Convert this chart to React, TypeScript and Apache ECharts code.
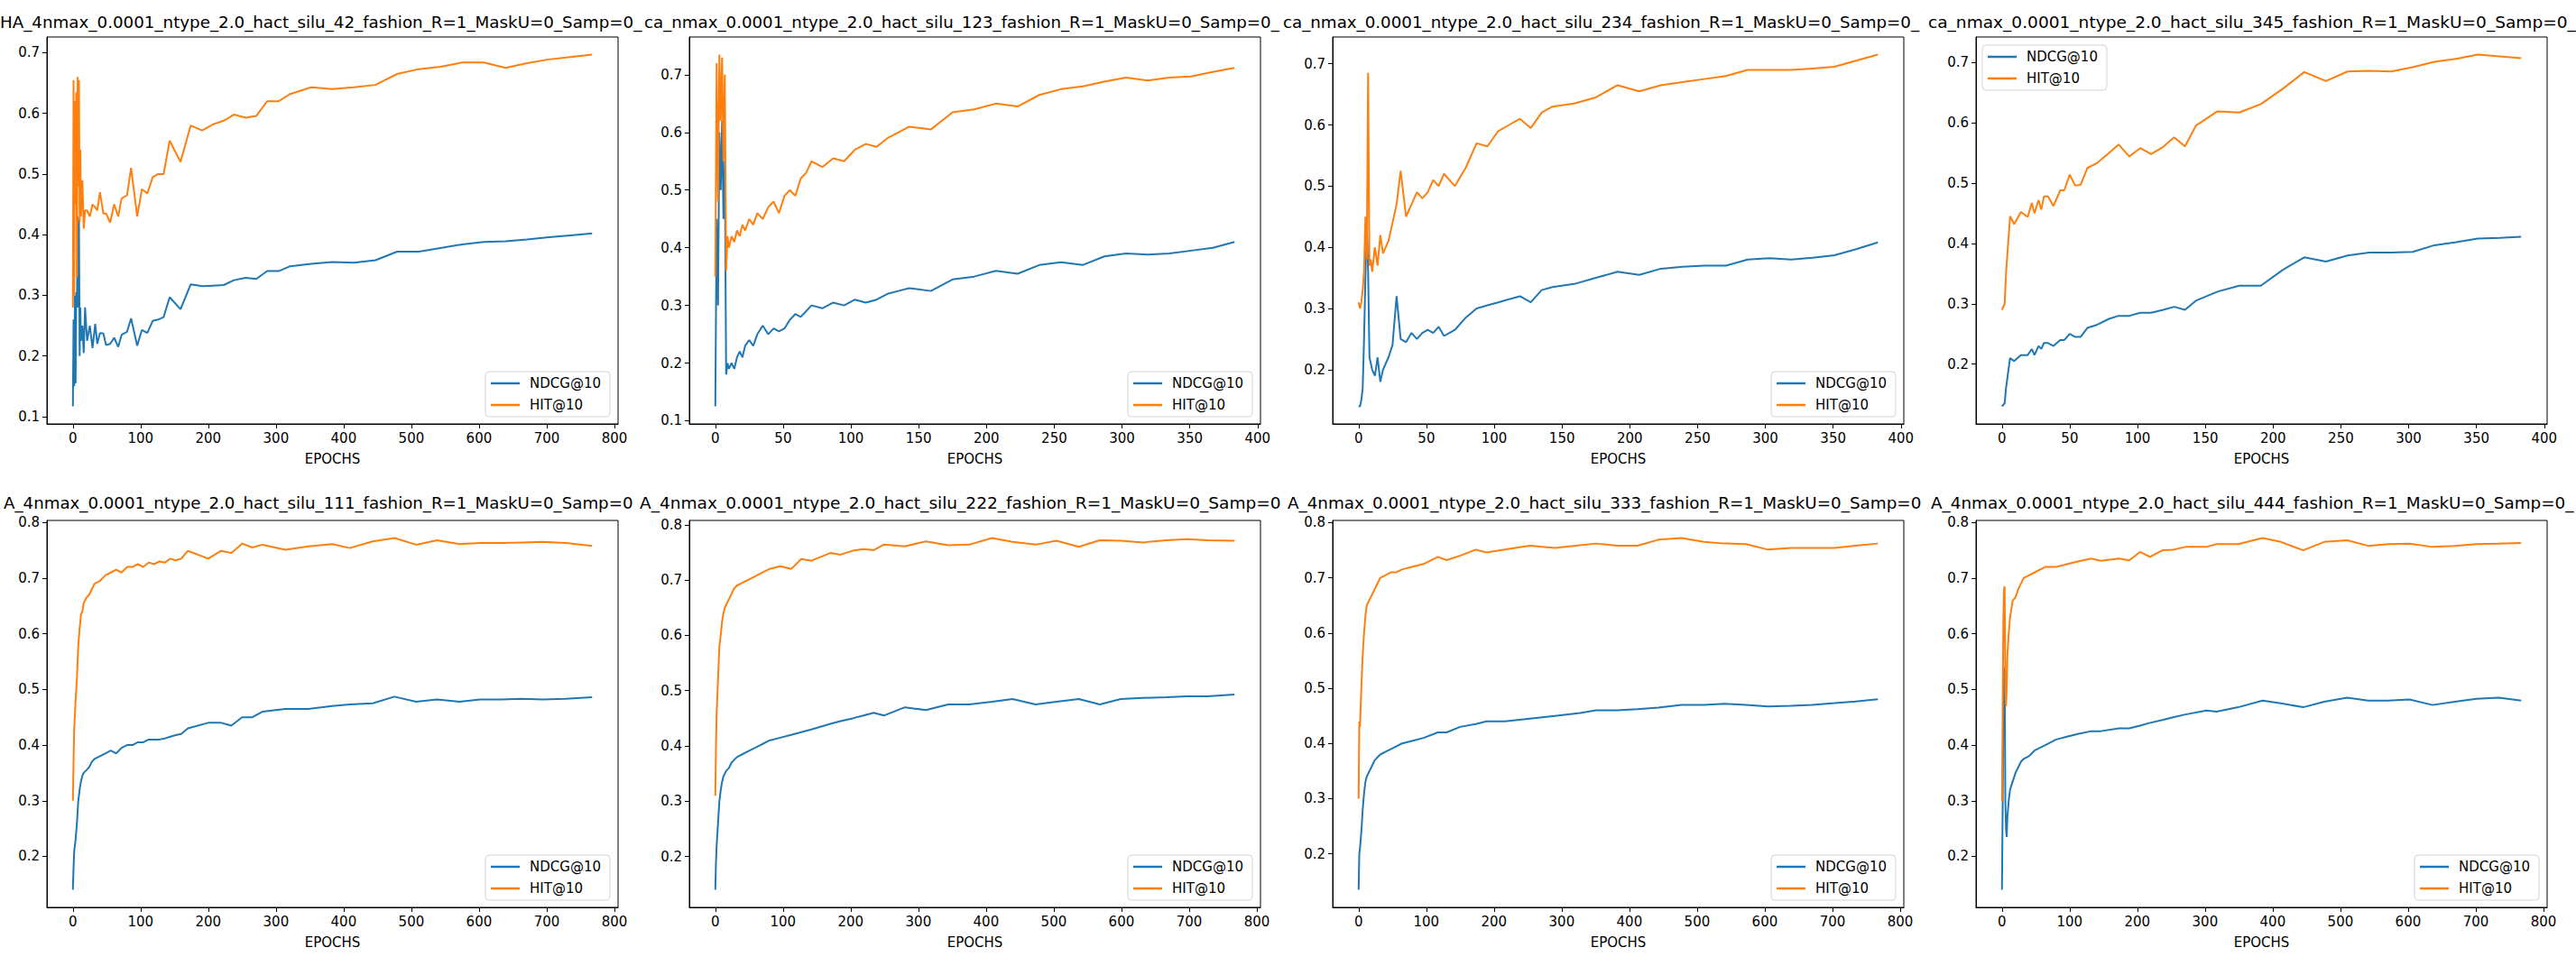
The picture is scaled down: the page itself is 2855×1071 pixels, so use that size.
import React, { useEffect, useRef } from 'react';
import * as echarts from 'echarts';

const W = 2855;
const H = 1071;
const FONT = 'DejaVu Sans';

// ---------- tick labels ----------
const XT_768 = [0, 100, 200, 300, 400, 500, 600, 700, 800];
const XT_384 = [0, 50, 100, 150, 200, 250, 300, 350, 400];
const YT_A = [0.1, 0.2, 0.3, 0.4, 0.5, 0.6, 0.7];
const YT_B = [0.2, 0.3, 0.4, 0.5, 0.6, 0.7];
const YT_C = [0.2, 0.3, 0.4, 0.5, 0.6, 0.7, 0.8];

const SERIES_NAMES = ['NDCG@10', 'HIT@10'];

// ---------- titles ----------
const TITLES = [
  'HA_4nmax_0.0001_ntype_2.0_hact_silu_42_fashion_R=1_MaskU=0_Samp=0_',
  'ca_nmax_0.0001_ntype_2.0_hact_silu_123_fashion_R=1_MaskU=0_Samp=0_',
  'ca_nmax_0.0001_ntype_2.0_hact_silu_234_fashion_R=1_MaskU=0_Samp=0_',
  'ca_nmax_0.0001_ntype_2.0_hact_silu_345_fashion_R=1_MaskU=0_Samp=0_',
  'A_4nmax_0.0001_ntype_2.0_hact_silu_111_fashion_R=1_MaskU=0_Samp=0',
  'A_4nmax_0.0001_ntype_2.0_hact_silu_222_fashion_R=1_MaskU=0_Samp=0',
  'A_4nmax_0.0001_ntype_2.0_hact_silu_333_fashion_R=1_MaskU=0_Samp=0',
  'A_4nmax_0.0001_ntype_2.0_hact_silu_444_fashion_R=1_MaskU=0_Samp=0_',
];

// ---------- panel 1 (42) ----------
const E1 = [0,1,2,3,4,5,6,7,8,9,10,11,12,14,16,18,21,25,29,33,36,40,45,49,55,61,67,72,80,86,95,102,110,118,126,134,143,159,174,191,207,223,238,255,271,287,304,321,352,383,415,447,479,511,543,575,607,639,671,703,735,767];
const H1 = [0.28,0.655,0.30,0.62,0.45,0.635,0.33,0.66,0.48,0.655,0.42,0.54,0.43,
  0.49,0.41,0.44,
  0.44,0.43,0.45,0.445,0.44,0.47,0.435,0.435,
  0.42,0.45,0.43,0.46,0.465,0.51,0.43,
  0.475,0.468,0.495,0.50,0.50,0.555,
  0.52,0.58,0.572,0.582,0.588,0.598,0.593,0.596,0.62,
  0.62,0.632,0.643,0.640,0.643,0.647,0.665,0.673,0.677,0.684,0.684,0.675,0.683,0.689,0.693,0.697];
const N1 = [0.117,0.26,0.15,0.30,0.155,0.305,0.28,0.43,0.28,0.425,0.20,0.28,0.225,
  0.25,0.205,0.28,
  0.225,0.25,0.213,0.253,0.22,0.238,0.237,0.218,
  0.22,0.23,0.215,0.235,0.24,0.262,0.217,
  0.243,0.238,0.258,0.26,0.264,0.297,
  0.277,0.318,0.315,0.316,0.317,0.325,0.329,0.327,0.34,
  0.34,0.348,0.352,0.355,0.354,0.358,0.372,0.372,0.378,0.384,0.388,0.389,0.392,0.396,0.399,0.402];

// ---------- panel 2 (123) ----------
const E2 = [0,1,2,3,4,5,6,7,8,9,10,12,14,16,18,20,22,25,28,31,35,39,43,47,51,55,59,63,67,71,79,87,95,103,111,119,127,135,143,159,175,191,207,223,239,255,271,287,303,319,335,351,367,383];
const H2 = [0.35,0.72,0.48,0.735,0.62,0.73,0.55,0.70,0.36,0.42,0.40,
  0.42,0.41,0.43,0.42,0.44,0.43,
  0.45,0.44,0.46,0.45,0.47,0.48,0.46,0.49,0.50,0.49,0.52,0.53,0.55,
  0.54,0.555,0.55,0.57,0.58,0.575,0.59,0.60,0.61,
  0.605,0.635,0.64,0.65,0.645,0.665,0.675,0.68,0.688,0.695,0.69,0.695,0.697,0.705,0.712];
const N2 = [0.125,0.45,0.30,0.60,0.50,0.62,0.45,0.55,0.18,0.20,0.19,
  0.20,0.19,0.21,0.22,0.21,0.23,
  0.24,0.23,0.25,0.265,0.25,0.26,0.255,0.26,0.275,0.285,0.28,0.29,0.30,
  0.295,0.305,0.30,0.31,0.305,0.31,0.32,0.325,0.33,
  0.325,0.345,0.35,0.36,0.355,0.37,0.375,0.37,0.385,0.39,0.388,0.39,0.395,0.40,0.41];

// ---------- panel 3 (234) ----------
const E3 = [0,1,2,3,4,5,6,7,8,9,10,12,14,16,18,20,22,25,28,31,35,39,43,47,51,55,59,63,67,71,79,87,95,103,111,119,127,135,143,159,175,191,207,223,239,255,271,287,303,319,335,351,367,383];
const H3 = [0.31,0.30,0.31,0.33,0.36,0.45,0.38,0.685,0.37,0.38,0.36,
  0.40,0.37,0.42,0.39,0.40,0.41,
  0.44,0.47,0.525,0.45,0.47,0.49,0.48,0.49,0.51,0.50,0.52,0.51,0.50,
  0.53,0.57,0.565,0.59,0.60,0.61,0.595,0.62,0.63,
  0.635,0.645,0.665,0.655,0.665,0.67,0.675,0.68,0.69,0.69,0.69,0.692,0.695,0.705,0.715];
const N3 = [0.14,0.14,0.15,0.17,0.25,0.35,0.45,0.36,0.22,0.21,0.20,
  0.19,0.22,0.18,0.20,0.21,0.22,
  0.24,0.32,0.25,0.245,0.26,0.25,0.26,0.265,0.26,0.27,0.255,0.26,0.265,
  0.285,0.30,0.305,0.31,0.315,0.32,0.31,0.33,0.335,
  0.34,0.35,0.36,0.355,0.365,0.368,0.37,0.37,0.38,0.382,0.38,0.383,0.387,0.397,0.408];

// ---------- panel 4 (345) ----------
const E4 = [0,2,3,6,9,14,19,22,24,27,29,31,34,38,43,46,50,54,58,63,70,79,86,94,102,110,119,127,135,143,159,175,191,207,223,239,255,271,287,303,319,335,351,367,383];
const H4 = [0.29,0.30,0.35,0.445,0.432,
  0.452,0.444,0.467,0.45,0.472,0.456,0.478,0.478,0.462,
  0.488,0.488,0.514,0.496,0.497,0.525,0.533,
  0.55,0.564,0.544,0.558,0.548,0.56,0.576,0.561,0.595,
  0.619,0.617,0.631,0.656,0.684,0.669,0.685,0.686,0.685,0.692,0.701,0.706,0.713,0.710,0.707];
const N4 = [0.13,0.135,0.16,0.21,0.205,
  0.215,0.215,0.225,0.215,0.23,0.225,0.235,0.235,0.23,
  0.24,0.24,0.25,0.245,0.245,0.26,0.265,
  0.275,0.28,0.28,0.285,0.285,0.29,0.295,0.29,0.305,
  0.32,0.33,0.33,0.356,0.377,0.37,0.38,0.385,0.385,0.386,0.397,0.402,0.408,0.409,0.411];

// ---------- panel 5 (111) ----------
const E5 = [0,1,2,4,6,8,10,12,14,16,20,24,28,32,40,48,56,64,72,80,88,96,104,112,120,128,136,144,152,160,170,200,219,234,250,265,280,314,348,383,409,443,475,507,538,571,602,633,663,694,728,767];
const H5 = [0.30,0.37,0.43,0.48,0.52,0.58,0.61,0.635,0.64,0.655,
  0.665,0.67,0.68,0.69,0.695,0.705,0.71,0.715,0.71,0.72,
  0.72,0.725,0.72,0.728,0.725,0.73,0.728,0.735,0.732,0.735,
  0.749,0.735,0.749,0.745,0.762,0.755,0.76,0.751,0.757,0.761,
  0.754,0.766,0.772,0.76,0.768,0.761,0.763,0.763,0.764,0.765,0.763,0.758];
const N5 = [0.14,0.18,0.21,0.23,0.26,0.30,0.32,0.335,0.345,0.35,
  0.355,0.36,0.37,0.375,0.38,0.385,0.39,0.385,0.395,0.40,
  0.40,0.405,0.405,0.41,0.41,0.41,0.412,0.415,0.418,0.42,
  0.43,0.44,0.44,0.435,0.45,0.45,0.46,0.465,0.465,0.47,
  0.473,0.475,0.487,0.478,0.482,0.478,0.482,0.482,0.483,0.482,0.483,0.486];

// ---------- panel 6 (222) ----------
const E6 = [0,1,2,4,6,8,10,12,14,16,20,24,28,32,40,48,56,64,72,80,96,112,127,142,170,185,203,219,234,249,280,311,344,375,409,439,473,504,537,568,599,632,666,697,727,767];
const H6 = [0.31,0.40,0.46,0.52,0.58,0.60,0.625,0.64,0.65,0.655,
  0.665,0.675,0.685,0.69,0.695,0.70,0.705,0.71,0.715,0.72,
  0.725,0.72,0.738,0.735,0.749,0.746,0.753,0.756,0.754,0.764,
  0.761,0.770,0.763,0.764,0.776,0.769,0.764,0.771,0.76,0.772,
  0.771,0.768,0.772,0.774,0.772,0.771];
const N6 = [0.14,0.19,0.22,0.26,0.30,0.32,0.335,0.345,0.35,0.355,
  0.36,0.37,0.375,0.38,0.385,0.39,0.395,0.40,0.405,0.41,
  0.415,0.42,0.425,0.43,0.44,0.445,0.45,0.455,0.46,0.455,
  0.47,0.465,0.475,0.475,0.48,0.485,0.475,0.48,0.485,0.475,
  0.485,0.487,0.488,0.49,0.49,0.493];

// ---------- panel 7 (333) ----------
const E7 = [0,1,2,4,6,8,10,12,16,20,24,28,32,40,48,56,64,80,96,117,130,150,173,189,216,253,290,327,351,382,412,443,477,510,541,572,605,639,670,703,734,767];
const H7 = [0.30,0.44,0.43,0.50,0.56,0.60,0.63,0.65,0.66,0.67,
  0.68,0.69,0.70,0.705,0.71,0.71,0.715,0.72,0.725,0.738,
  0.732,0.74,0.751,0.746,0.751,0.758,0.754,0.759,0.762,0.758,
  0.758,0.769,0.772,0.765,0.762,0.761,0.751,0.754,0.754,0.754,
  0.758,0.762];
const N7 = [0.135,0.20,0.21,0.24,0.28,0.31,0.33,0.34,0.35,0.36,
  0.37,0.375,0.38,0.385,0.39,0.395,0.40,0.405,0.41,0.42,
  0.42,0.43,0.435,0.44,0.44,0.445,0.45,0.455,0.46,0.46,
  0.462,0.465,0.47,0.47,0.472,0.47,0.467,0.468,0.47,0.473,
  0.476,0.48];

// ---------- panel 8 (444) ----------
const E8 = [0,1,2,3,4,5,6,7,8,10,12,16,20,24,28,32,40,48,56,64,80,96,112,132,146,173,188,204,219,237,253,271,302,317,349,385,412,445,476,510,541,571,602,636,669,701,734,767];
const H8 = [0.30,0.44,0.62,0.68,0.685,0.50,0.47,0.50,0.56,
  0.60,0.63,0.66,0.665,0.68,0.69,0.70,0.705,0.71,0.715,
  0.72,0.72,0.725,0.73,0.735,0.731,0.735,0.732,0.747,0.738,
  0.750,0.751,0.756,0.756,0.761,0.761,0.772,0.765,0.750,0.765,
  0.768,0.758,0.761,0.762,0.756,0.758,0.761,0.762,0.763];
const N8 = [0.14,0.28,0.45,0.53,0.54,0.30,0.25,0.235,0.27,
  0.30,0.32,0.335,0.35,0.36,0.37,0.375,0.38,0.39,0.395,
  0.40,0.41,0.415,0.42,0.425,0.425,0.43,0.43,0.435,0.44,
  0.445,0.45,0.455,0.462,0.46,0.468,0.48,0.475,0.468,0.478,
  0.485,0.48,0.48,0.482,0.472,0.478,0.483,0.485,0.48];

const PANELS = [
  { ep: E1, ndcg: N1, hit: H1, xt: XT_768, yt: YT_A },
  { ep: E2, ndcg: N2, hit: H2, xt: XT_384, yt: YT_A },
  { ep: E3, ndcg: N3, hit: H3, xt: XT_384, yt: YT_B },
  { ep: E4, ndcg: N4, hit: H4, xt: XT_384, yt: YT_B },
  { ep: E5, ndcg: N5, hit: H5, xt: XT_768, yt: YT_C },
  { ep: E6, ndcg: N6, hit: H6, xt: XT_768, yt: YT_C },
  { ep: E7, ndcg: N7, hit: H7, xt: XT_768, yt: YT_C },
  { ep: E8, ndcg: N8, hit: H8, xt: XT_768, yt: YT_C },
];

// ---------- layout (pixels) ----------
const COL_LEFT = [52, 764, 1477, 2190];
const GRID_W = 633;
const ROW_TOP = [41, 577];
const GRID_H = 429;
const TITLE_Y = [25, 558];
const TITLE_SPAN = [
  [0, 712], [714, 1418], [1422, 2128], [2137, 2855],
  [4, 702], [709, 1420], [1427, 2130], [2140, 2853],
];
const LEGEND_UPPER_LEFT = [false, false, false, true, false, false, false, false];

const BLUE = '#1f77b4';
const ORANGE = '#ff7f0e';

function buildOption() {
  const canvas = document.createElement('canvas');
  const ctx = canvas.getContext('2d');
  const TITLE_FS = 18;
  if (ctx) ctx.font = `${TITLE_FS}px "${FONT}"`;

  const grid: any[] = [];
  const xAxis: any[] = [];
  const yAxis: any[] = [];
  const series: any[] = [];
  const legend: any[] = [];
  const graphic: any[] = [];

  PANELS.forEach((p, i) => {
    const col = i % 4;
    const row = Math.floor(i / 4);
    const left = COL_LEFT[col];
    const top = ROW_TOP[row];
    grid.push({
      left, top, width: GRID_W, height: GRID_H,
      show: true, borderColor: '#000', borderWidth: 1, backgroundColor: 'transparent',
    });

    const xMaxData = Math.max(...p.ep);
    const xMinData = Math.min(...p.ep);
    const xr = xMaxData - xMinData;
    const all = p.ndcg.concat(p.hit);
    const yMinData = Math.min(...all);
    const yMaxData = Math.max(...all);
    const yr = yMaxData - yMinData;

    const labelStyle = { color: '#000', fontSize: 15, fontFamily: FONT };

    xAxis.push({
      type: 'value', gridIndex: i,
      min: xMinData - 0.05 * xr, max: xMaxData + 0.05 * xr,
      axisLine: { show: true, onZero: false, lineStyle: { color: '#000', width: 1 } },
      axisTick: { show: true, length: 5, inside: false, customValues: p.xt, lineStyle: { color: '#000', width: 1 } },
      axisLabel: { ...labelStyle, margin: 8, customValues: p.xt, formatter: (v: number) => String(Math.round(v)) },
      splitLine: { show: false },
      name: 'EPOCHS', nameLocation: 'middle', nameGap: 31,
      nameTextStyle: { color: '#000', fontSize: 15, fontFamily: FONT },
    });
    yAxis.push({
      type: 'value', gridIndex: i,
      min: yMinData - 0.05 * yr, max: yMaxData + 0.05 * yr,
      axisLine: { show: true, onZero: false, lineStyle: { color: '#000', width: 1 } },
      axisTick: { show: true, length: 5, inside: false, customValues: p.yt, lineStyle: { color: '#000', width: 1 } },
      axisLabel: { ...labelStyle, margin: 8, customValues: p.yt, formatter: (v: number) => v.toFixed(1) },
      splitLine: { show: false },
    });

    series.push({
      type: 'line', name: SERIES_NAMES[0], xAxisIndex: i, yAxisIndex: i,
      data: p.ep.map((e, k) => [e, p.ndcg[k]]),
      showSymbol: false, symbol: 'none', silent: true, clip: true,
      lineStyle: { color: BLUE, width: 2 }, itemStyle: { color: BLUE },
      emphasis: { disabled: true },
    });
    series.push({
      type: 'line', name: SERIES_NAMES[1], xAxisIndex: i, yAxisIndex: i,
      data: p.ep.map((e, k) => [e, p.hit[k]]),
      showSymbol: false, symbol: 'none', silent: true, clip: true,
      lineStyle: { color: ORANGE, width: 2 }, itemStyle: { color: ORANGE },
      emphasis: { disabled: true },
    });

    const lg: any = {
      data: SERIES_NAMES, orient: 'vertical', selectedMode: false,
      icon: 'rect', itemWidth: 32, itemHeight: 2.5, itemGap: 4,
      padding: [3, 10, 3, 6],
      backgroundColor: 'rgba(255,255,255,0.8)', borderColor: '#d3d3d3', borderWidth: 1, borderRadius: 4,
      textStyle: { color: '#000', fontSize: 15, fontFamily: FONT, lineHeight: 20, padding: [0, 0, 0, 6] },
    };
    if (LEGEND_UPPER_LEFT[i]) {
      lg.left = left + 7;
      lg.top = top + 9;
    } else {
      lg.right = W - (left + GRID_W) + 9;
      lg.bottom = H - (top + GRID_H) + 8;
    }
    legend.push(lg);

    const text = TITLES[i];
    const [tx0, tx1] = TITLE_SPAN[i];
    const tw = ctx ? ctx.measureText(text).width : tx1 - tx0;
    graphic.push({
      type: 'text', x: tx0, y: TITLE_Y[row], scaleX: (tx1 - tx0) / tw, silent: true,
      style: {
        text, fontSize: TITLE_FS, fontFamily: FONT, fill: '#000',
        textAlign: 'left', verticalAlign: 'middle', textVerticalAlign: 'middle',
      },
    });
  });

  return {
    animation: false,
    backgroundColor: '#fff',
    grid, xAxis, yAxis, series, legend, graphic,
  };
}

export default function App() {
  const ref = useRef<HTMLDivElement>(null);
  useEffect(() => {
    if (!ref.current) return;
    const chart = echarts.init(ref.current, null, { renderer: 'svg' });
    chart.setOption(buildOption() as any);
    return () => chart.dispose();
  }, []);
  return (
    <div
      ref={ref}
      style={{ position: 'absolute', left: 0, top: 0, width: W, height: H, background: '#fff' }}
    />
  );
}
